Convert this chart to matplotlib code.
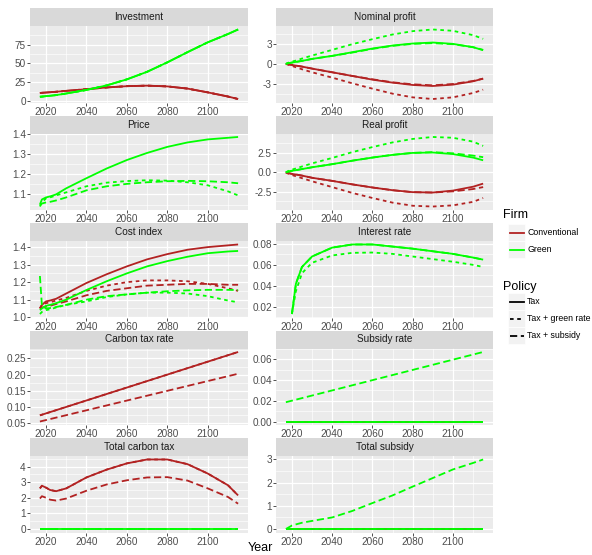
import numpy as np
import matplotlib.pyplot as plt
from matplotlib.patches import Rectangle
from matplotlib.lines import Line2D
from matplotlib.ticker import MultipleLocator, AutoMinorLocator, FormatStrFormatter

plt.rcParams['font.family'] = ['Liberation Sans', 'DejaVu Sans']

nan = np.nan

# ---- data ----
YEARS = [2017, 2018, 2020, 2022, 2025, 2030, 2040, 2050, 2060, 2070, 2080, 2090, 2100, 2110, 2115]
ENDS = [2017, 2115]

inv_conv = [11, 11.2, 11.6, 12.0, 12.6, 13.8, 16.0, 18.3, 20.0, 20.7, 19.7, 16.8, 11.8, 6.3, 3.0]
inv_green = [6.0, 6.2, 6.8, 7.3, 8.2, 10.3, 15.0, 21.0, 29.0, 39.0, 51.5, 65.0, 78.0, 89.0, 95.0]

np_conv_tax = [0, -0.05, -0.15, -0.25, -0.4, -0.7, -1.25, -1.8, -2.35, -2.8, -3.15, -3.3, -3.1, -2.6, -2.2]
np_conv_gr = [0, -0.1, -0.3, -0.5, -0.8, -1.25, -2.05, -2.9, -3.7, -4.45, -5.0, -5.25, -5.0, -4.35, -3.85]
np_conv_sub = [0, -0.05, -0.15, -0.25, -0.4, -0.7, -1.25, -1.8, -2.3, -2.75, -3.05, -3.2, -3.0, -2.55, -2.2]
np_green_tax = [0, 0.1, 0.2, 0.3, 0.45, 0.75, 1.2, 1.75, 2.3, 2.75, 3.05, 3.2, 3.0, 2.5, 2.05]
np_green_gr = [0, 0.15, 0.35, 0.5, 0.8, 1.25, 2.1, 2.95, 3.7, 4.4, 4.9, 5.15, 4.95, 4.3, 3.75]
np_green_sub = [0, 0.1, 0.2, 0.3, 0.45, 0.75, 1.2, 1.7, 2.25, 2.7, 3.0, 3.1, 2.95, 2.5, 2.1]

price_tax = [1.05, 1.075, 1.085, 1.09, 1.10, 1.13, 1.18, 1.228, 1.27, 1.305, 1.335, 1.357, 1.372, 1.380, 1.384]
price_gr = [1.04, 1.06, 1.08, 1.085, 1.095, 1.11, 1.14, 1.158, 1.166, 1.17, 1.168, 1.16, 1.145, 1.115, 1.095]
price_sub = [1.045, 1.055, 1.06, 1.063, 1.07, 1.085, 1.12, 1.14, 1.152, 1.16, 1.165, 1.167, 1.165, 1.16, 1.155]

rp_conv_tax = [0, -0.08, -0.2, -0.28, -0.42, -0.7, -1.1, -1.55, -1.95, -2.3, -2.55, -2.6, -2.35, -1.85, -1.45]
rp_conv_gr = [0, -0.15, -0.35, -0.5, -0.75, -1.15, -1.9, -2.65, -3.3, -3.9, -4.3, -4.4, -4.25, -3.8, -3.3]
rp_conv_sub = [0, -0.08, -0.2, -0.28, -0.42, -0.7, -1.1, -1.55, -1.95, -2.3, -2.55, -2.6, -2.45, -2.15, -1.9]
rp_green_tax = [0, 0.08, 0.2, 0.28, 0.42, 0.65, 1.05, 1.5, 1.9, 2.25, 2.5, 2.55, 2.35, 1.9, 1.55]
rp_green_gr = [0, 0.15, 0.35, 0.5, 0.75, 1.15, 1.85, 2.6, 3.25, 3.85, 4.3, 4.55, 4.45, 3.95, 3.4]
rp_green_sub = [0, 0.08, 0.2, 0.28, 0.42, 0.65, 1.05, 1.5, 1.9, 2.25, 2.5, 2.6, 2.45, 2.15, 1.95]

ci_conv_tax = [1.05, 1.07, 1.09, 1.095, 1.105, 1.135, 1.195, 1.245, 1.29, 1.33, 1.36, 1.385, 1.40, 1.41, 1.415]
ci_conv_gr = [1.05, 1.07, 1.08, 1.085, 1.095, 1.11, 1.15, 1.18, 1.20, 1.21, 1.21, 1.205, 1.19, 1.165, 1.15]
ci_conv_sub = [1.05, 1.055, 1.06, 1.065, 1.075, 1.09, 1.125, 1.15, 1.165, 1.18, 1.185, 1.19, 1.19, 1.185, 1.185]
ci_green_tax = [1.04, 1.05, 1.065, 1.07, 1.08, 1.10, 1.155, 1.205, 1.25, 1.29, 1.32, 1.345, 1.365, 1.375, 1.378]
ci_green_gr = [1.018, 1.03, 1.04, 1.045, 1.055, 1.07, 1.09, 1.115, 1.13, 1.14, 1.14, 1.135, 1.12, 1.095, 1.085]
ci_green_sub = [1.235, 1.065, 1.05, 1.052, 1.058, 1.07, 1.10, 1.12, 1.13, 1.14, 1.148, 1.153, 1.156, 1.156, 1.155]

ir_green_tax = [nan, nan, 0.013, 0.042, 0.058, 0.068, 0.0765, 0.0795, 0.0795, 0.0775, 0.0755, 0.073, 0.0705, 0.067, 0.065]
ir_green_gr = [nan, nan, 0.013, 0.035, 0.052, 0.062, 0.069, 0.0715, 0.0718, 0.0705, 0.068, 0.0655, 0.063, 0.06, 0.058]

ctr_conv_tax = [0.075, 0.27]
ctr_conv_sub = [0.056, 0.203]

sr_green_sub = [0.0186, 0.067]
zero_ends = [0, 0]

tct_conv_tax = [2.6, 2.77, 2.65, 2.5, 2.42, 2.6, 3.3, 3.8, 4.2, 4.45, 4.45, 4.15, 3.55, 2.8, 2.15]
tct_conv_sub = [1.95, 2.1, 2.0, 1.88, 1.82, 1.95, 2.45, 2.85, 3.12, 3.3, 3.32, 3.1, 2.6, 2.05, 1.62]

ts_green_sub = [0, 0.05, 0.15, 0.2, 0.27, 0.35, 0.5, 0.78, 1.12, 1.45, 1.83, 2.2, 2.57, 2.85, 3.0]

C, G = 'Conventional', 'Green'
T, GR, S = 'Tax', 'Tax + green rate', 'Tax + subsidy'

# (title, y tick step, tick format, [(firm, policy, x, y), ...])
panels = [
    ('Investment', 25, '%d', [(C, T, YEARS, inv_conv), (C, GR, YEARS, inv_conv), (C, S, YEARS, inv_conv),
                              (G, T, YEARS, inv_green), (G, GR, YEARS, inv_green), (G, S, YEARS, inv_green)]),
    ('Nominal profit', 3, '%d', [(C, T, YEARS, np_conv_tax), (C, GR, YEARS, np_conv_gr), (C, S, YEARS, np_conv_sub),
                                 (G, T, YEARS, np_green_tax), (G, GR, YEARS, np_green_gr), (G, S, YEARS, np_green_sub)]),
    ('Price', 0.1, '%.1f', [(G, T, YEARS, price_tax), (G, GR, YEARS, price_gr), (G, S, YEARS, price_sub)]),
    ('Real profit', 2.5, '%.1f', [(C, T, YEARS, rp_conv_tax), (C, GR, YEARS, rp_conv_gr), (C, S, YEARS, rp_conv_sub),
                                  (G, T, YEARS, rp_green_tax), (G, GR, YEARS, rp_green_gr), (G, S, YEARS, rp_green_sub)]),
    ('Cost index', 0.1, '%.1f', [(C, T, YEARS, ci_conv_tax), (C, GR, YEARS, ci_conv_gr), (C, S, YEARS, ci_conv_sub),
                                 (G, T, YEARS, ci_green_tax), (G, GR, YEARS, ci_green_gr), (G, S, YEARS, ci_green_sub)]),
    ('Interest rate', 0.02, '%.2f', [(G, T, YEARS, ir_green_tax), (G, GR, YEARS, ir_green_gr), (G, S, YEARS, ir_green_tax)]),
    ('Carbon tax rate', 0.05, '%.2f', [(C, T, ENDS, ctr_conv_tax), (C, GR, ENDS, ctr_conv_tax), (C, S, ENDS, ctr_conv_sub)]),
    ('Subsidy rate', 0.02, '%.2f', [(C, T, ENDS, zero_ends), (C, GR, ENDS, zero_ends), (C, S, ENDS, zero_ends),
                                    (G, T, ENDS, zero_ends), (G, GR, ENDS, zero_ends), (G, S, ENDS, sr_green_sub)]),
    ('Total carbon tax', 1, '%d', [(C, T, YEARS, tct_conv_tax), (C, GR, YEARS, tct_conv_tax), (C, S, YEARS, tct_conv_sub),
                                   (G, T, ENDS, zero_ends), (G, GR, ENDS, zero_ends), (G, S, ENDS, zero_ends)]),
    ('Total subsidy', 1, '%d', [(C, T, ENDS, zero_ends), (C, GR, ENDS, zero_ends), (C, S, ENDS, zero_ends),
                                (G, T, ENDS, zero_ends), (G, GR, ENDS, zero_ends), (G, S, YEARS, ts_green_sub)]),
]

COLORS = {C: '#B22222', G: '#00FF00'}
DASHES = {T: None, GR: (2, 2), S: (4, 2)}
LW = 1.3

W, H = 592, 555
fig = plt.figure(figsize=(W / 100, H / 100), dpi=100)

col_left = [30, 276]
col_w = [218, 217]
strip_h, panel_h, pitch, top0 = 18, 76.5, 107.5, 8

xmin, xmax = min(YEARS), max(YEARS)
xpad = 0.05 * (xmax - xmin)


def fig_rect(left, top, w, h):
    return [left / W, 1 - (top + h) / H, w / W, h / H]


for i, (title, step, fmt, series) in enumerate(panels):
    r, c = divmod(i, 2)
    top = top0 + r * pitch
    sax = fig.add_axes(fig_rect(col_left[c], top, col_w[c], strip_h))
    sax.set_facecolor('#D9D9D9')
    sax.set_xticks([])
    sax.set_yticks([])
    for sp in sax.spines.values():
        sp.set_visible(False)
    sax.text(0.5, 0.5, title, ha='center', va='center', fontsize=7.2, color='#1A1A1A',
             transform=sax.transAxes)

    ax = fig.add_axes(fig_rect(col_left[c], top + strip_h, col_w[c], panel_h))
    ax.set_facecolor('#EBEBEB')
    for sp in ax.spines.values():
        sp.set_visible(False)
    for firm, policy, xs, ys in series:
        ln, = ax.plot(xs, ys, color=COLORS[firm], lw=LW, solid_capstyle='butt')
        if DASHES[policy] is not None:
            ln.set_dashes(DASHES[policy])
    ax.set_xlim(xmin - xpad, xmax + xpad)
    ax.margins(y=0.05)
    ax.xaxis.set_major_locator(MultipleLocator(20))
    ax.xaxis.set_minor_locator(MultipleLocator(10))
    ax.yaxis.set_major_locator(MultipleLocator(step))
    ax.yaxis.set_minor_locator(AutoMinorLocator(2))
    ax.yaxis.set_major_formatter(FormatStrFormatter(fmt))
    ax.grid(which='major', color='white', lw=0.9)
    ax.grid(which='minor', color='white', lw=0.45)
    ax.set_axisbelow(True)
    ax.tick_params(which='major', length=2, width=0.6, color='#333333', labelsize=7.2,
                   labelcolor='#4D4D4D', pad=1)
    ax.tick_params(which='minor', length=0)

fig.text(260 / W, 1 - 548 / H, 'Year', ha='center', va='center', fontsize=9, color='black')

# ---- legends ----
def legend_block(title, title_y, entries, first_y):
    fig.text(503 / W, 1 - title_y / H, title, ha='left', va='center', fontsize=9)
    for k, (label, color, dashes) in enumerate(entries):
        y = first_y + k * 17
        fig.patches.append(Rectangle((508 / W, 1 - (y + 8.5) / H), 17 / W, 17 / H,
                                     facecolor='#F2F2F2', edgecolor='white', lw=0.5,
                                     transform=fig.transFigure))
        ln = Line2D([510 / W, 523.5 / W], [1 - y / H, 1 - y / H], color=color, lw=LW,
                    transform=fig.transFigure)
        if dashes is not None:
            ln.set_dashes(dashes)
        fig.lines.append(ln)
        fig.text(527 / W, 1 - y / H, label, ha='left', va='center', fontsize=6.3)


legend_block('Firm', 215.5, [(C, COLORS[C], None), (G, COLORS[G], None)], 232.7)
legend_block('Policy', 287, [(T, 'black', None), (GR, 'black', DASHES[GR]), (S, 'black', DASHES[S])], 301.5)

fig.savefig('out.png', dpi=100)
